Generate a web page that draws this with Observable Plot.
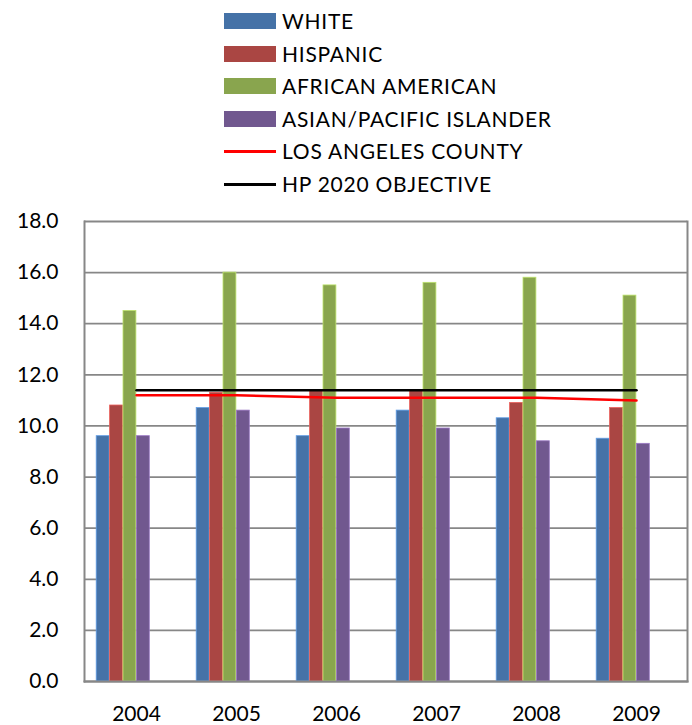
<!DOCTYPE html>
<html><head><meta charset="utf-8">
<script src="https://cdn.jsdelivr.net/npm/d3@7"></script>
<script src="https://cdn.jsdelivr.net/npm/@observablehq/plot@0.6"></script>
<style>
body{margin:0;background:#fff;font-family:Lato,sans-serif;}
#legend{position:relative;height:200px;width:692px;}
.sw{position:absolute;left:224px;width:52px;}
.lab{position:absolute;left:282px;font-size:21px;line-height:24px;letter-spacing:0.75px;color:#000;white-space:nowrap;}
</style></head><body>
<div id="legend"></div>
<div id="chart"></div>
<script>
const years = ["2004","2005","2006","2007","2008","2009"];
const barSeries = ["WHITE","HISPANIC","AFRICAN AMERICAN","ASIAN/PACIFIC ISLANDER"];
const barColors = ["#4572A7","#AA4643","#89A54E","#71588F"];
const white    = [9.6, 10.7, 9.6, 10.6, 10.3, 9.5];
const hispanic = [10.8, 11.3, 11.4, 11.4, 10.9, 10.7];
const african  = [14.5, 16.0, 15.5, 15.6, 15.8, 15.1];
const asian    = [9.6, 10.6, 9.9, 9.9, 9.4, 9.3];
const lineSeries = ["LOS ANGELES COUNTY","HP 2020 OBJECTIVE"];
const lineColors = ["#ff0000","#000000"];
const laCounty = [11.2, 11.2, 11.1, 11.1, 11.1, 11.0];
const hp2020   = [11.4, 11.4, 11.4, 11.4, 11.4, 11.4];
const yTicks = [0,2,4,6,8,10,12,14,16,18];

// legend
const leg = document.getElementById("legend");
const rowY = i => 21 + 32.6*i;
barSeries.forEach((s,i)=>{
  const sw=document.createElement("div");sw.className="sw";
  sw.style.top=(rowY(i)-8)+"px";sw.style.height="16px";sw.style.background=barColors[i];
  leg.appendChild(sw);
  const t=document.createElement("div");t.className="lab";t.textContent=s;t.style.top=(rowY(i)-12)+"px";
  leg.appendChild(t);
});
lineSeries.forEach((s,j)=>{
  const i=j+4;
  const sw=document.createElement("div");sw.className="sw";
  sw.style.top=(rowY(i)-1.5)+"px";sw.style.height="3px";sw.style.background=lineColors[j];
  leg.appendChild(sw);
  const t=document.createElement("div");t.className="lab";t.textContent=s;t.style.top=(rowY(i)-12)+"px";
  leg.appendChild(t);
});

const barValues=[white,hispanic,african,asian];
const W=692, ML=84, MR=5;
const bw=(W-ML-MR)/years.length;
const groupStart=10.2, barW=13.4;
const barMarks = barValues.map((vals,k)=>Plot.barY(years.map((y,i)=>({year:y,v:vals[i]})),{
  x:"year", y:"v", fill:barColors[k],
  stroke:d3.color(barColors[k]).brighter(0.9).formatHex(), strokeWidth:0.8,
  insetLeft: groupStart+k*barW, insetRight: bw-(groupStart+(k+1)*barW)
}));
const lineMarks=[laCounty,hp2020].map((vals,j)=>Plot.line(years.map((y,i)=>({year:y,v:vals[i]})),{
  x:"year", y:"v", stroke:lineColors[j], strokeWidth:2.5
}));

const chart = Plot.plot({
  width:W, height:525,
  marginLeft:ML, marginRight:MR, marginTop:21, marginBottom:44,
  x:{type:"band", domain:years, padding:0, axis:null, label:null},
  y:{domain:[0,18], axis:null, label:null},
  style:{fontFamily:"Lato, sans-serif", fontSize:"21px", color:"#000", background:"#fff"},
  marks:[
    Plot.gridY(yTicks,{stroke:"#878787", strokeOpacity:1, strokeWidth:1.8}),
    ...barMarks,
    Plot.frame({anchor:"left", stroke:"#878787", strokeWidth:2}),
    Plot.frame({anchor:"right", stroke:"#878787", strokeWidth:2}),
    Plot.frame({anchor:"bottom", stroke:"#878787", strokeWidth:2}),
    ...lineMarks,
    Plot.axisY(yTicks,{tickSize:0, tickPadding:26, tickFormat:d=>d.toFixed(1), fontSize:21, label:null}),
    Plot.axisX({tickSize:0, tickPadding:25, fontSize:21, label:null})
  ]
});
document.getElementById("chart").appendChild(chart);
</script>
</body></html>
